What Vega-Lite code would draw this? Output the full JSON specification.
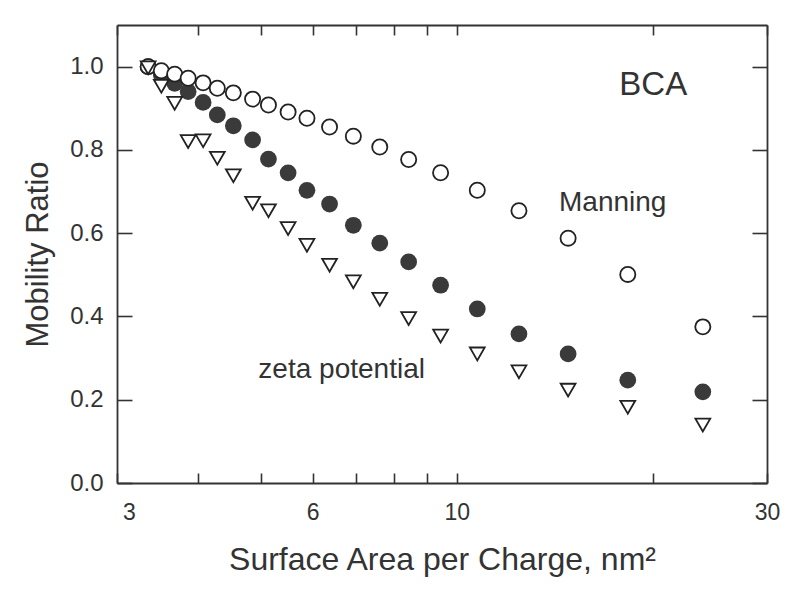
{
  "$schema": "https://vega.github.io/schema/vega-lite/v6.json",
  "width": 650,
  "height": 458,
  "autosize": "none",
  "padding": {"left": 117, "top": 25, "right": 33, "bottom": 118},
  "background": "white",
  "config": {
    "view": {"stroke": null},
    "font": "Liberation Sans",
    "axis": {
      "grid": false,
      "domainColor": "#333333",
      "domainWidth": 1.8,
      "tickColor": "#333333",
      "tickWidth": 1.6,
      "labelColor": "#333333",
      "labelFont": "Liberation Sans",
      "labelFontSize": 23,
      "titleColor": "#333333",
      "titleFont": "Liberation Sans",
      "titleFontWeight": "normal",
      "labelOverlap": false,
      "labelFlush": false
    }
  },
  "datasets": {
    "points": [
      {"area": 3.35, "ratio": 1.0, "series": "measured"},
      {"area": 3.51, "ratio": 0.98, "series": "measured"},
      {"area": 3.68, "ratio": 0.96, "series": "measured"},
      {"area": 3.86, "ratio": 0.94, "series": "measured"},
      {"area": 4.07, "ratio": 0.914, "series": "measured"},
      {"area": 4.28, "ratio": 0.884, "series": "measured"},
      {"area": 4.53, "ratio": 0.858, "series": "measured"},
      {"area": 4.85, "ratio": 0.824, "series": "measured"},
      {"area": 5.13, "ratio": 0.778, "series": "measured"},
      {"area": 5.5, "ratio": 0.745, "series": "measured"},
      {"area": 5.88, "ratio": 0.703, "series": "measured"},
      {"area": 6.37, "ratio": 0.67, "series": "measured"},
      {"area": 6.93, "ratio": 0.619, "series": "measured"},
      {"area": 7.61, "ratio": 0.576, "series": "measured"},
      {"area": 8.43, "ratio": 0.531, "series": "measured"},
      {"area": 9.44, "ratio": 0.475, "series": "measured"},
      {"area": 10.75, "ratio": 0.418, "series": "measured"},
      {"area": 12.46, "ratio": 0.358, "series": "measured"},
      {"area": 14.83, "ratio": 0.31, "series": "measured"},
      {"area": 18.32, "ratio": 0.247, "series": "measured"},
      {"area": 23.9, "ratio": 0.219, "series": "measured"},
      {"area": 3.35, "ratio": 1.0, "series": "Manning"},
      {"area": 3.51, "ratio": 0.99, "series": "Manning"},
      {"area": 3.68, "ratio": 0.982, "series": "Manning"},
      {"area": 3.86, "ratio": 0.972, "series": "Manning"},
      {"area": 4.07, "ratio": 0.961, "series": "Manning"},
      {"area": 4.28, "ratio": 0.948, "series": "Manning"},
      {"area": 4.53, "ratio": 0.937, "series": "Manning"},
      {"area": 4.85, "ratio": 0.922, "series": "Manning"},
      {"area": 5.13, "ratio": 0.908, "series": "Manning"},
      {"area": 5.5, "ratio": 0.891, "series": "Manning"},
      {"area": 5.88, "ratio": 0.876, "series": "Manning"},
      {"area": 6.37, "ratio": 0.855, "series": "Manning"},
      {"area": 6.93, "ratio": 0.833, "series": "Manning"},
      {"area": 7.61, "ratio": 0.807, "series": "Manning"},
      {"area": 8.43, "ratio": 0.777, "series": "Manning"},
      {"area": 9.44, "ratio": 0.745, "series": "Manning"},
      {"area": 10.75, "ratio": 0.703, "series": "Manning"},
      {"area": 12.46, "ratio": 0.654, "series": "Manning"},
      {"area": 14.83, "ratio": 0.588, "series": "Manning"},
      {"area": 18.32, "ratio": 0.501, "series": "Manning"},
      {"area": 23.9, "ratio": 0.375, "series": "Manning"},
      {"area": 3.35, "ratio": 0.997, "series": "zeta potential"},
      {"area": 3.51, "ratio": 0.953, "series": "zeta potential"},
      {"area": 3.68, "ratio": 0.912, "series": "zeta potential"},
      {"area": 3.86, "ratio": 0.82, "series": "zeta potential"},
      {"area": 4.07, "ratio": 0.822, "series": "zeta potential"},
      {"area": 4.28, "ratio": 0.78, "series": "zeta potential"},
      {"area": 4.53, "ratio": 0.738, "series": "zeta potential"},
      {"area": 4.85, "ratio": 0.672, "series": "zeta potential"},
      {"area": 5.13, "ratio": 0.654, "series": "zeta potential"},
      {"area": 5.5, "ratio": 0.611, "series": "zeta potential"},
      {"area": 5.88, "ratio": 0.571, "series": "zeta potential"},
      {"area": 6.37, "ratio": 0.523, "series": "zeta potential"},
      {"area": 6.93, "ratio": 0.483, "series": "zeta potential"},
      {"area": 7.61, "ratio": 0.441, "series": "zeta potential"},
      {"area": 8.43, "ratio": 0.395, "series": "zeta potential"},
      {"area": 9.44, "ratio": 0.353, "series": "zeta potential"},
      {"area": 10.75, "ratio": 0.31, "series": "zeta potential"},
      {"area": 12.46, "ratio": 0.267, "series": "zeta potential"},
      {"area": 14.83, "ratio": 0.223, "series": "zeta potential"},
      {"area": 18.32, "ratio": 0.182, "series": "zeta potential"},
      {"area": 23.9, "ratio": 0.139, "series": "zeta potential"}
    ],
    "annotations": [
      {"label": "BCA", "area": 17.78, "ratio": 0.933, "kind": "panel"},
      {"label": "Manning", "area": 14.36, "ratio": 0.654, "kind": "series"},
      {"label": "zeta potential", "area": 4.95, "ratio": 0.251, "kind": "series"}
    ]
  },
  "resolve": {"axis": {"x": "independent", "y": "independent"}},
  "layer": [
    {
      "data": {"name": "points"},
      "transform": [{"filter": "datum.series == 'measured'"}],
      "mark": {"type": "point", "shape": "circle", "filled": true, "size": 280, "color": "#3a3a3a", "opacity": 1},
      "encoding": {
        "x": {
          "field": "area", "type": "quantitative",
          "scale": {"type": "log", "domain": [3, 30], "nice": false},
          "axis": {
            "orient": "bottom",
            "values": [3, 4, 5, 6, 7, 8, 9, 10, 20, 30],
            "labelExpr": "indexof([3, 6, 10, 30], datum.value) >= 0 ? '' + datum.value : ''",
            "labelOffset": {"condition": {"test": "datum.value == 3", "value": 12}, "value": 0},
            "tickSize": -10,
            "labelPadding": 28,
            "title": "Surface Area per Charge, nm²",
            "titleFontSize": 32,
            "titlePadding": 20
          }
        },
        "y": {
          "field": "ratio", "type": "quantitative",
          "scale": {"domain": [0, 1.1], "nice": false},
          "axis": {
            "orient": "left",
            "values": [0, 0.2, 0.4, 0.6, 0.8, 1.0],
            "format": ".1f",
            "tickSize": -15,
            "labelPadding": 29,
            "labelFontSize": 24,
            "title": "Mobility Ratio",
            "titleFontSize": 31,
            "titlePadding": 15
          }
        }
      }
    },
    {
      "data": {"name": "points"},
      "transform": [{"filter": "datum.series == 'Manning'"}],
      "mark": {"type": "point", "shape": "circle", "filled": true, "size": 230, "fill": "white", "stroke": "#222222", "strokeWidth": 1.8, "opacity": 1},
      "encoding": {
        "x": {
          "field": "area", "type": "quantitative",
          "axis": {
            "orient": "top",
            "values": [3, 4, 5, 6, 7, 8, 9, 10, 20, 30],
            "labels": false,
            "tickSize": -10,
            "title": null
          }
        },
        "y": {
          "field": "ratio", "type": "quantitative",
          "axis": {
            "orient": "right",
            "values": [0, 0.2, 0.4, 0.6, 0.8, 1.0],
            "labels": false,
            "tickSize": -15,
            "title": null
          }
        }
      }
    },
    {
      "data": {"name": "points"},
      "transform": [{"filter": "datum.series == 'zeta potential'"}],
      "mark": {"type": "point", "shape": "triangle-down", "filled": true, "size": 220, "fill": "white", "stroke": "#222222", "strokeWidth": 1.8, "opacity": 1},
      "encoding": {
        "x": {"field": "area", "type": "quantitative", "axis": null},
        "y": {"field": "ratio", "type": "quantitative", "axis": null}
      }
    },
    {
      "data": {"name": "annotations"},
      "transform": [{"filter": "datum.kind == 'panel'"}],
      "mark": {"type": "text", "align": "left", "baseline": "alphabetic", "fontSize": 33, "color": "#333333", "font": "Liberation Sans"},
      "encoding": {
        "x": {"field": "area", "type": "quantitative", "axis": null},
        "y": {"field": "ratio", "type": "quantitative", "axis": null},
        "text": {"field": "label"}
      }
    },
    {
      "data": {"name": "annotations"},
      "transform": [{"filter": "datum.kind == 'series'"}],
      "mark": {"type": "text", "align": "left", "baseline": "alphabetic", "fontSize": 28, "color": "#333333", "font": "Liberation Sans"},
      "encoding": {
        "x": {"field": "area", "type": "quantitative", "axis": null},
        "y": {"field": "ratio", "type": "quantitative", "axis": null},
        "text": {"field": "label"}
      }
    }
  ]
}
